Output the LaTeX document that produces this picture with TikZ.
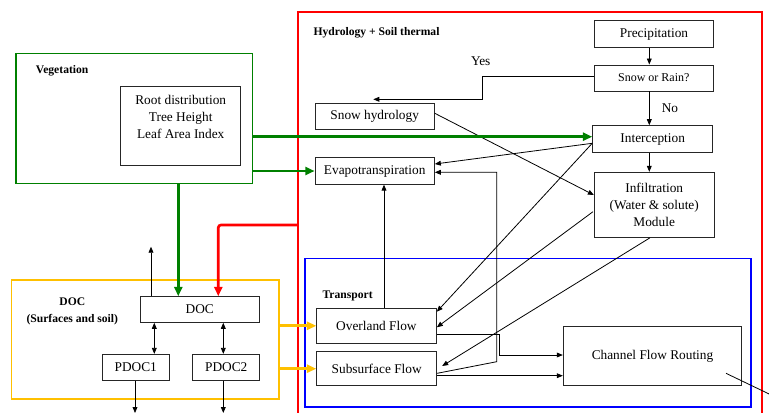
\documentclass[tikz,border=0pt]{standalone}
\usepackage{fontspec}
\setmainfont{Liberation Serif}
\usepackage{xcolor}
\usepackage{tikz}
\usetikzlibrary{positioning,arrows.meta,calc}
\definecolor{VegGreen}{HTML}{008000}
\definecolor{DocOrange}{HTML}{FFC000}

\begin{document}
\begin{tikzpicture}[
  x=0.75pt, y=-0.75pt,
  sz/.style 2 args={minimum width=#1*0.75pt, minimum height=#2*0.75pt},
  box/.style={draw=black!85, inner sep=0pt, align=center, font=\fontsize{10}{12.8}\selectfont, line width=0.7pt},
  group/.style={draw=#1, inner sep=0pt, line width=1.2pt},
  tag/.style={font=\fontsize{8.7}{13}\selectfont\bfseries, inner sep=0pt},
  flow/.style={-{Triangle[length=4.5pt,width=3.6pt]}, line width=0.6pt},
  dflow/.style={{Triangle[length=4.5pt,width=3.6pt]}-{Triangle[length=4.5pt,width=3.6pt]}, line width=0.6pt},
  feed/.style={-{Triangle[length=7pt,width=6pt]}, line width=2pt, draw=#1}
]
\useasboundingbox (0,0) rectangle (769,412);

% module frames
\node[group=red, sz={464}{412}] (hyd) at (530,218) {};
\node[group=VegGreen, sz={236.7}{130}] (veg) at (134.3,118.3) {};
\node[group=DocOrange, sz={267.3}{119}] (docbox) at (145.3,339.5) {};
\node[group=blue, sz={446}{148.4}] (trans) at (528,332.5) {};

\node[tag, anchor=west] (vegtag) at (35.7,71) {Vegetation};
\node[tag, anchor=west] (hydtag) at (313.3,33) {Hydrology + Soil thermal};
\node[tag, anchor=west] (transtag) at (322.3,295.7) {Transport};
\node[tag, align=center] (doctag) at (72.3,311.7) {DOC\\(Surfaces and soil)};

% process boxes
\node[box, sz={120}{79}] (traits) at (180.7,125.5) {};
\node[font=\fontsize{10}{13}\selectfont, align=center, inner sep=0pt, anchor=north] (traitstext) at ($(traits.north)+(0,9)$) {Root distribution\\Tree Height\\Leaf Area Index};

\node[box, sz={119.4}{26.6}] (precip) at (654,34) {Precipitation};
\node[box, sz={119}{26}, font=\fontsize{9}{11}\selectfont] (snowrain) at (653.8,78) {Snow or Rain?};
\node[box, sz={120}{26.6}] (interc) at (652.7,139) {Interception};
\node[box, sz={119.7}{65}] (infil) at (654.2,204.8) {Infiltration\\(Water \& solute)\\Module};
\node[box, sz={119.3}{26}] (snowhyd) at (374.7,116.3) {Snow hydrology};
\node[box, sz={119.3}{26.3}] (evapo) at (374.7,171) {Evapotranspiration};
\node[box, sz={119.3}{35}] (overland) at (376.4,325.8) {Overland Flow};
\node[box, sz={120}{34}] (subsurf) at (376.7,368.7) {Subsurface Flow};
\node[box, sz={178.4}{59}] (channel) at (652.5,356.2) {Channel Flow Routing};
\node[box, sz={119.3}{25.6}] (doc) at (199.7,309.5) {DOC};
\node[box, sz={67}{25.7}] (pdoc1) at (135.8,367.2) {PDOC1};
\node[box, sz={67.3}{25.7}] (pdoc2) at (226.3,367.2) {PDOC2};

\node (yeslabel) at (480.7,61) {Yes};
\node (nolabel) at (670,108) {No};

% helper points
\coordinate (stem) at (649.3,0);
\coordinate (yesbend) at (482.7,99.3);
\coordinate (yesend) at (373.3,99.3);
\coordinate (risex) at (384,0);
\coordinate (chanout) at (790,404);
\coordinate (gx) at (178.3,0);
\coordinate (rx) at (218.3,0);
\coordinate (redy) at (0,225);
\coordinate (upx) at (151,0);
\coordinate (uptop) at (151,246.7);
\coordinate (l1) at (154.3,0);
\coordinate (l2) at (223.3,0);
\coordinate (d1) at (135,413);
\coordinate (d2) at (223.3,413);
\path ($(interc.west)+(0,-2.3)$) coordinate (g1);

% hydrology connectors
\draw[flow] (precip.south -| stem) -- (snowrain.north -| stem);
\draw[flow] (snowrain.south -| stem) -- (interc.north -| stem);
\draw[flow] (interc.south -| stem) -- (infil.north -| stem);
\draw[flow] ($(snowrain.west)+(0,-2)$) -| (yesbend) -- (yesend);
\draw[flow] ($(snowhyd.east)+(0,-3)$) -- ($(infil.west)+(0,-9.8)$);
\draw[flow] ($(interc.west)+(0,4.3)$) -- ($(evapo.east)+(0,-7)$);
\draw[flow] ($(interc.west)+(0,4.3)$) -- ($(overland.east)+(0.3,-14.1)$);
\draw[flow] ($(infil.west)+(-0.9,6.9)$) -- ($(overland.east)+(0.3,1.5)$);
\draw[flow] ($(infil.south)+(-4.2,0)$) -- ($(subsurf.east)+(5,-2.7)$);
\draw[flow] (overland.north -| risex) -- (evapo.south -| risex);
\draw[flow] ($(subsurf.east)+(0,4.6)$) -- (496.7,361.7) |- ($(evapo.east)+(0,1.3)$);

% transport connectors
\draw[flow] ($(overland.east)+(0,8.5)$) -- (499.3,334.3) |- ($(channel.west)+(0,-1.2)$);
\draw[flow] ($(subsurf.east)+(0,7)$) coordinate (s) -- (s -| channel.west);
\draw[line width=0.6pt] ($(channel.center)+(73.5,17.1)$) -- (chanout);

% vegetation / hydrology feeds
\draw[feed=VegGreen] (veg.east |- g1) -- (g1);
\draw[feed=VegGreen] (veg.east |- evapo.west) -- (evapo.west);
\draw[feed=VegGreen] (veg.south -| gx) -- (doc.north -| gx);
\draw[feed=red, rounded corners=2pt] (hyd.west |- redy) -| (doc.north -| rx);
\draw[feed=DocOrange] (docbox.east |- overland.west) -- (overland.west);
\draw[feed=DocOrange] (docbox.east |- subsurf.west) -- (subsurf.west);

% DOC pools
\draw[flow] (doc.north -| upx) -- (uptop);
\draw[dflow] (doc.south -| l1) -- (pdoc1.north -| l1);
\draw[dflow] (doc.south -| l2) -- (pdoc2.north -| l2);
\draw[flow] (pdoc1.south -| d1) -- (d1);
\draw[flow] (pdoc2.south -| d2) -- (d2);
\end{tikzpicture}
\end{document}
